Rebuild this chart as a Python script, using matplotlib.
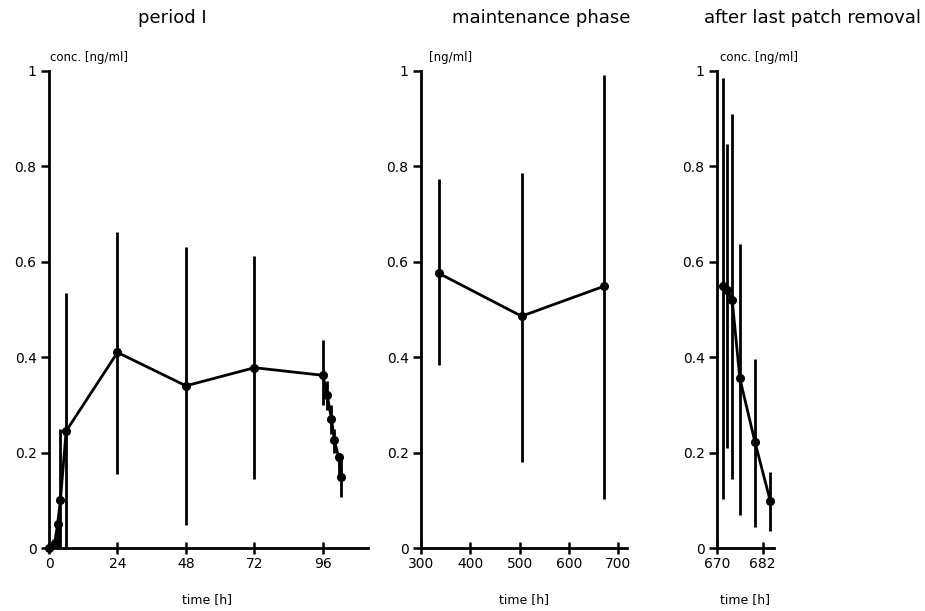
import numpy as np
import matplotlib
matplotlib.use("Agg")
import matplotlib.pyplot as plt

# period I (hours 0 - ~104)
t_period1 = [0, 2, 3, 4, 6, 24, 48, 72, 96, 97.5, 99, 100, 101.5, 102.5]
conc_period1 = [0.0, 0.01, 0.05, 0.10, 0.245, 0.41, 0.34, 0.378, 0.362, 0.32, 0.27, 0.226, 0.19, 0.148]
low_period1 = [0.0, 0.0, 0.0, 0.0, 0.0, 0.156, 0.049, 0.144, 0.30, 0.29, 0.24, 0.20, 0.15, 0.107]
high_period1 = [0.0, 0.02, 0.06, 0.25, 0.535, 0.663, 0.63, 0.613, 0.436, 0.35, 0.30, 0.25, 0.19, 0.19]

# maintenance phase
t_maint = [336, 504, 672]
conc_maint = [0.576, 0.486, 0.549]
low_maint = [0.383, 0.181, 0.103]
high_maint = [0.774, 0.786, 0.992]

# after last patch removal
t_after = [671.5, 672.7, 674.0, 676.0, 680.0, 684.0]
conc_after = [0.549, 0.54, 0.52, 0.356, 0.222, 0.099]
low_after = [0.103, 0.21, 0.145, 0.07, 0.044, 0.035]
high_after = [0.985, 0.847, 0.91, 0.637, 0.396, 0.16]

yticks = [0, 0.2, 0.4, 0.6, 0.8, 1]
yticklabels = ["0", "0.2", "0.4", "0.6", "0.8", "1"]

titles = ["period I", "maintenance phase", "after last patch removal"]
ylabels = ["conc. [ng/ml]", "[ng/ml]", "conc. [ng/ml]"]
xlabel = "time [h]"

plt.rcParams['font.family'] = ['DejaVu Sans']

fig = plt.figure(figsize=(9.25, 6.11), dpi=100)

W, H = 925.0, 611.0
bottom = 1 - 548 / H
height = (548 - 71) / H


def make_axes(left_px, right_px):
    ax = fig.add_axes([left_px / W, bottom, (right_px - left_px) / W, height])
    for side in ["top", "right"]:
        ax.spines[side].set_visible(False)
    for side in ["left", "bottom"]:
        ax.spines[side].set_linewidth(2)
    ax.set_ylim(0, 1)
    ax.set_yticks(yticks)
    ax.set_yticklabels(yticklabels)
    ax.tick_params(axis="y", direction="out", length=6, width=1.8, labelsize=10, pad=3)
    ax.tick_params(axis="x", direction="inout", length=9, width=1.8, labelsize=10, pad=2)
    return ax


def draw(ax, t, c, lo, hi):
    c = np.array(c)
    yerr = [c - np.array(lo), np.array(hi) - c]
    ax.errorbar(t, c, yerr=yerr, fmt="o-", color="black", ms=5.5, lw=2,
                elinewidth=2, capsize=0, clip_on=False)


# panel 1
ax1 = make_axes(49, 368)
draw(ax1, t_period1, conc_period1, low_period1, high_period1)
ax1.set_xlim(0, 111.8)
ax1.set_xticks([0, 24, 48, 72, 96])

# panel 2
ax2 = make_axes(421, 627)
draw(ax2, t_maint, conc_maint, low_maint, high_maint)
ax2.set_xlim(300, 718)
ax2.set_xticks([300, 400, 500, 600, 700])

# panel 3
ax3 = make_axes(717, 774)
draw(ax3, t_after, conc_after, low_after, high_after)
ax3.set_xlim(670, 685)
ax3.set_xticks([670, 682])

# titles, unit labels and axis labels
title_x = [172, 541, 812]
for x, s in zip(title_x, titles):
    fig.text(x / W, 1 - 18 / H, s, ha="center", va="center", fontsize=13)

ylab_x = [50, 429, 720]
for x, s in zip(ylab_x, ylabels):
    fig.text(x / W, 1 - 57 / H, s, ha="left", va="center", fontsize=8.5)

xlab_x = [207, 524, 745]
for x in xlab_x:
    fig.text(x / W, 1 - 600 / H, xlabel, ha="center", va="center", fontsize=9)

fig.savefig("out.png", dpi=100)
